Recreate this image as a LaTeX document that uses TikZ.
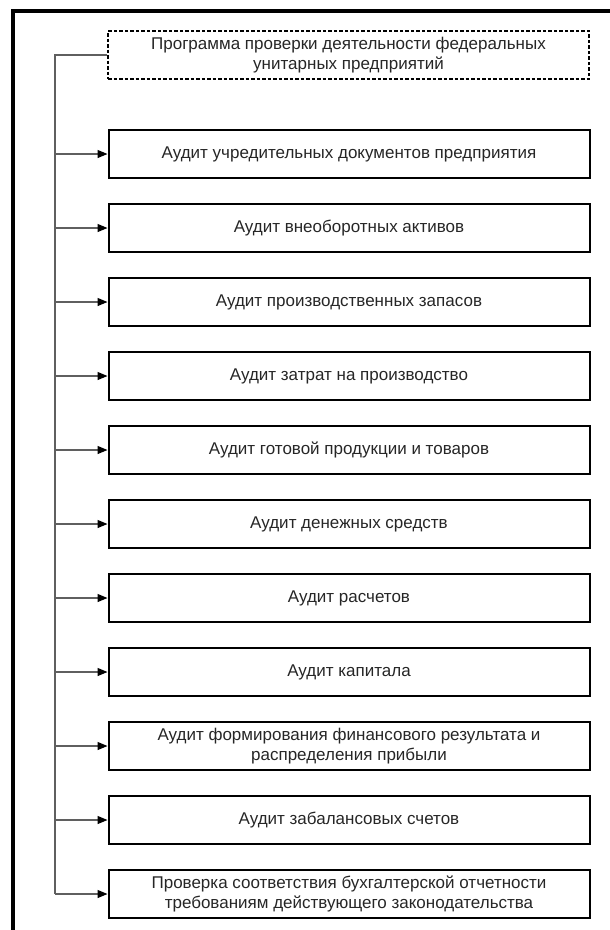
\documentclass[tikz,border=0pt]{standalone}
\usepackage{fontspec}
\setmainfont{Liberation Sans}
\usetikzlibrary{arrows.meta}

\tikzset{
  auditbox/.style={draw,line width=2pt,minimum width=481pt,minimum height=48pt,
    align=center,inner sep=2pt,text=black!85,font=\fontsize{17}{19.5}\selectfont},
  headbox/.style={auditbox,line width=1.5pt,dash pattern=on 3.5pt off 2pt},
  link/.style={draw=linegray,line width=1.2pt},
  arr/.style={link,-{Triangle[length=10pt,width=8pt,fill=black,color=black]}}
}
\definecolor{linegray}{RGB}{95,95,95}

\begin{document}
\begin{tikzpicture}[x=1pt,y=-1pt]
\useasboundingbox (0,0) rectangle (610,930);
% page frame (left and top edges only)
\draw[line width=4pt] (13,930) -- (13,11) -- (610,11);
% programme title
\node[headbox] (head) at (348.5,55) {Программа проверки деятельности федеральных\\унитарных предприятий};
% audit sections
\node[auditbox] (b1) at (349,154) {Аудит учредительных документов предприятия};
\node[auditbox] (b2) at (349,228) {Аудит внеоборотных активов};
\node[auditbox] (b3) at (349,302) {Аудит производственных запасов};
\node[auditbox] (b4) at (349,376) {Аудит затрат на производство};
\node[auditbox] (b5) at (349,450) {Аудит готовой продукции и товаров};
\node[auditbox] (b6) at (349,524) {Аудит денежных средств};
\node[auditbox] (b7) at (349,598) {Аудит расчетов};
\node[auditbox] (b8) at (349,672) {Аудит капитала};
\node[auditbox] (b9) at (349,746) {Аудит формирования финансового результата и\\распределения прибыли};
\node[auditbox] (b10) at (349,820) {Аудит забалансовых счетов};
\node[auditbox] (b11) at (349,894) {Проверка соответствия бухгалтерской отчетности\\требованиям действующего законодательства};
% trunk line
\coordinate (top) at (55,55);
\coordinate (bot) at (55,894);
\draw[link] (head.west) -- (top) -- (bot);
% branches
\draw[arr] (top |- b1.west) -- (b1.west);
\draw[arr] (top |- b2.west) -- (b2.west);
\draw[arr] (top |- b3.west) -- (b3.west);
\draw[arr] (top |- b4.west) -- (b4.west);
\draw[arr] (top |- b5.west) -- (b5.west);
\draw[arr] (top |- b6.west) -- (b6.west);
\draw[arr] (top |- b7.west) -- (b7.west);
\draw[arr] (top |- b8.west) -- (b8.west);
\draw[arr] (top |- b9.west) -- (b9.west);
\draw[arr] (top |- b10.west) -- (b10.west);
\draw[arr] (top |- b11.west) -- (b11.west);
\end{tikzpicture}
\end{document}
